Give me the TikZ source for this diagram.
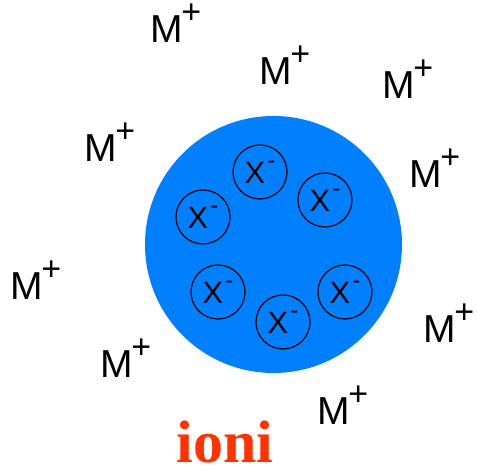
\documentclass[tikz,border=0pt]{standalone}
\usepackage{fontspec}
\setmainfont{Liberation Sans}
\newfontfamily\labelfont{Liberation Serif}
\usepackage{tikz}
\definecolor{dropblue}{HTML}{0080FF}
\definecolor{ionired}{HTML}{FF3300}
\newcommand{\Mplus}{M\kern-0.8pt\raisebox{9.5pt}{\fontsize{17}{17}\selectfont +}}
\newcommand{\Xminus}{X\kern1.2pt\raisebox{7.4pt}{\fontsize{12}{12}\selectfont -}}

\begin{document}
\begin{tikzpicture}[x=0.5pt, y=-0.5pt,
  cation/.style={inner sep=0pt, anchor=base west, font=\fontsize{19.5}{20}\selectfont},
  anion/.style={draw=black, line width=0.6pt, circle, inner sep=0pt, minimum size=27pt, font=\fontsize{15.4}{16}\selectfont}]
\useasboundingbox (0,0) rectangle (477,474);
% drop
\fill[dropblue] (273.5,244.5) circle (128.5);
% anions inside
\node[anion] (x1) at (260,172) {\Xminus};
\node[anion] (x2) at (325,200) {\Xminus};
\node[anion] (x3) at (203,217) {\Xminus};
\node[anion] (x4) at (218,292) {\Xminus};
\node[anion] (x5) at (283,322) {\Xminus};
\node[anion] (x6) at (345,292) {\Xminus};
% cations around
\node[cation] (m1) at (150,43) {\Mplus};
\node[cation] (m2) at (259,85) {\Mplus};
\node[cation] (m3) at (382,99) {\Mplus};
\node[cation] (m4) at (84,162) {\Mplus};
\node[cation] (m5) at (409,188) {\Mplus};
\node[cation] (m6) at (10,300) {\Mplus};
\node[cation] (m7) at (423,343) {\Mplus};
\node[cation] (m8) at (100,378) {\Mplus};
\node[cation] (m9) at (317,425) {\Mplus};
% caption
\node[anchor=base, inner sep=0pt, text=ionired, font=\labelfont\bfseries\fontsize{30}{30}\selectfont] (cap) at (225,463) {ioni};
\end{tikzpicture}
\end{document}
